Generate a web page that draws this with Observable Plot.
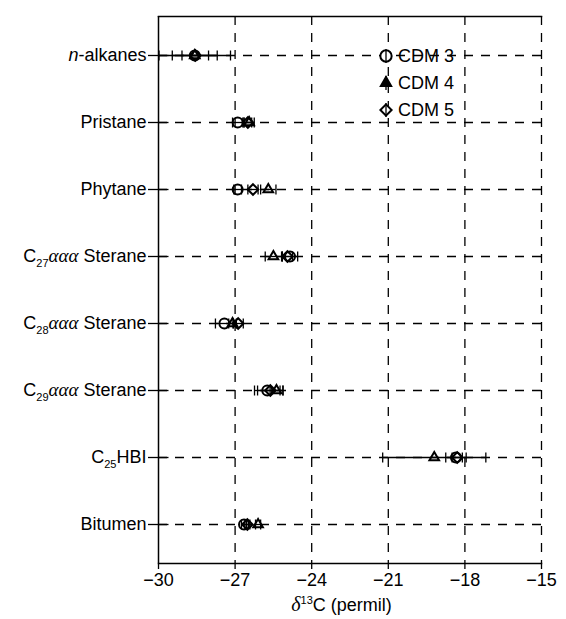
<!DOCTYPE html>
<html><head><meta charset="utf-8">
<script src="https://cdn.jsdelivr.net/npm/d3@7"></script>
<script src="https://cdn.jsdelivr.net/npm/@observablehq/plot@0.6"></script>
<style>
html,body{margin:0;padding:0;background:#fff;}
#chart{width:566px;height:619px;}
</style></head><body><div id="chart"></div>
<script>
// ---- data ----
const categories = ["n-alkanes","Pristane","Phytane","C27ααα Sterane","C28ααα Sterane","C29ααα Sterane","C25HBI","Bitumen"];
const seriesNames = ["CDM 3","CDM 4","CDM 5"];
const cdm3Mean = [-28.58, -26.9, -26.9, -24.85, -27.42, -25.74, -18.35, -26.65];
const cdm3Err  = [1.4, 0.2, 0.15, 0.3, 0.35, 0.5, 0.4, 0.1];
const cdm4Mean = [-28.58, -26.45, -25.7, -25.5, -27.1, -25.38, -19.2, -26.1];
const cdm4Err  = [0.88, 0.2, 0.3, 0.32, 0.15, 0.25, 2.02, 0.1];
const cdm5Mean = [-28.56, -26.5, -26.3, -24.95, -26.88, -25.62, -18.3, -26.52];
const cdm5Err  = [0.52, 0.15, 0.2, 0.2, 0.2, 0.5, 0.2, 0.1];
const xTicks = [-30, -27, -24, -21, -18, -15];
const xLabel = "δ13C (permil)";

const series = [
  {name: seriesNames[0], mean: cdm3Mean, err: cdm3Err},
  {name: seriesNames[1], mean: cdm4Mean, err: cdm4Err},
  {name: seriesNames[2], mean: cdm5Mean, err: cdm5Err}
];
const rows = series.flatMap(s => categories.map((c, i) => ({
  series: s.name, cat: c, mean: s.mean[i], lo: s.mean[i] - s.err[i], hi: s.mean[i] + s.err[i]
})));
const bySeries = name => rows.filter(d => d.series === name);

const vcap = {draw(ctx) { ctx.moveTo(0, -5); ctx.lineTo(0, 5); }};
const inTick = {draw(ctx) { ctx.moveTo(0, 0); ctx.lineTo(10, 0); }};
const dash = {stroke: "black", strokeWidth: 1.3, strokeDasharray: "9,8"};

const plot = Plot.plot({
  width: 566, height: 619,
  marginLeft: 158, marginRight: 25, marginTop: 16, marginBottom: 56,
  style: {fontFamily: "'Liberation Sans', Arial, sans-serif", fontSize: "18px", color: "black", background: "white"},
  x: {domain: [-30, -15]},
  y: {type: "point", domain: categories, padding: 0.53},
  marks: [
    Plot.ruleY(categories, {y: d => d, ...dash}),
    Plot.ruleX(xTicks.slice(1), {x: d => d, ...dash}),
    Plot.ruleX([xTicks[0]], {x: d => d, stroke: "black", strokeWidth: 1.5}),
    Plot.frame({anchor: "top", strokeWidth: 1.5}),
    Plot.frame({anchor: "bottom", strokeWidth: 1.5}),
    Plot.axisX({ticks: xTicks, tickSize: 6, tickPadding: 4, label: null, strokeWidth: 1.3}),
    Plot.axisY({tickSize: 10, tickPadding: 2, label: null, strokeWidth: 1.3}),
    Plot.dot(categories, {x: () => xTicks[0], y: d => d, symbol: inTick, stroke: "black", strokeWidth: 1.3}),
    // error bars
    Plot.ruleY(rows, {y: "cat", x1: "lo", x2: "hi", stroke: "black", strokeWidth: 1.3}),
    Plot.dot(rows, {x: "lo", y: "cat", symbol: vcap, stroke: "black", strokeWidth: 1.3}),
    Plot.dot(rows, {x: "hi", y: "cat", symbol: vcap, stroke: "black", strokeWidth: 1.3}),
    // markers
    Plot.dot(bySeries("CDM 4"), {x: "mean", y: "cat", symbol: "triangle2", r: 4.6, stroke: "black", fill: "none", strokeWidth: 2}),
    Plot.dot(bySeries("CDM 5"), {x: "mean", y: "cat", symbol: "diamond2", r: 4.8, stroke: "black", fill: "none", strokeWidth: 2}),
    Plot.dot(bySeries("CDM 3"), {x: "mean", y: "cat", symbol: "circle", r: 5, stroke: "black", fill: "none", strokeWidth: 2})
  ]
});
document.getElementById("chart").appendChild(plot);

const svg = d3.select(plot);
const xs = plot.scale("x");

// rich y tick labels
svg.selectAll('g[aria-label="y-axis tick label"] text').each(function() {
  const t = d3.select(this);
  const s = t.text();
  t.text(null);
  let m;
  if (s.startsWith("n-")) {
    t.append("tspan").attr("font-style", "italic").text("n");
    t.append("tspan").text(s.slice(1));
  } else if ((m = s.match(/^C(\d+)(ααα)?(.*)$/))) {
    t.append("tspan").text("C");
    t.append("tspan").attr("font-size", "11px").attr("dy", "5").text(m[1]);
    if (m[2]) {
      t.append("tspan").attr("dy", "-5").attr("font-family", "'Liberation Serif', serif").attr("font-style", "italic").attr("font-size", "19px").text(m[2]);
      t.append("tspan").text(m[3]);
    } else {
      t.append("tspan").attr("dy", "-5").text(m[3]);
    }
  } else {
    t.text(s);
  }
});

// x label with superscript
const xl = svg.append("text")
  .attr("x", (xs.apply(xTicks[0]) + xs.apply(xTicks[xTicks.length - 1])) / 2 - 8)
  .attr("y", 611)
  .attr("text-anchor", "middle")
  .attr("fill", "black");
xl.append("tspan").attr("font-family", "'Liberation Serif', serif").attr("font-style", "italic").attr("font-size", "20px").text(xLabel[0]);
xl.append("tspan").attr("font-size", "11px").attr("dy", "-7").text(xLabel.slice(1, 3));
xl.append("tspan").attr("dy", "7").text(xLabel.slice(3));

// legend
const legend = svg.append("g").attr("fill", "black");
const legendItems = [
  {name: seriesNames[0], type: d3.symbolCircle, size: Math.PI * 32, fill: "white", y: 56},
  {name: seriesNames[1], type: d3.symbolTriangle2, size: 75, fill: "black", y: 83},
  {name: seriesNames[2], type: d3.symbolDiamond2, size: 80, fill: "white", y: 110}
];
legendItems.forEach(it => {
  const g = legend.append("g").attr("transform", `translate(386,${it.y})`);
  g.append("line").attr("y1", -7).attr("y2", 7).attr("stroke", "black").attr("stroke-width", 1.3);
  g.append("path").attr("d", d3.symbol(it.type, it.size)()).attr("fill", it.fill).attr("stroke", "black").attr("stroke-width", 2);
  if (it.fill === "white") g.append("line").attr("y1", -6).attr("y2", 6).attr("stroke", "black").attr("stroke-width", 1.3);
  legend.append("text").attr("x", 398).attr("y", it.y).attr("dy", "0.36em").attr("text-anchor", "start").text(it.name);
});
</script>
</body></html>
